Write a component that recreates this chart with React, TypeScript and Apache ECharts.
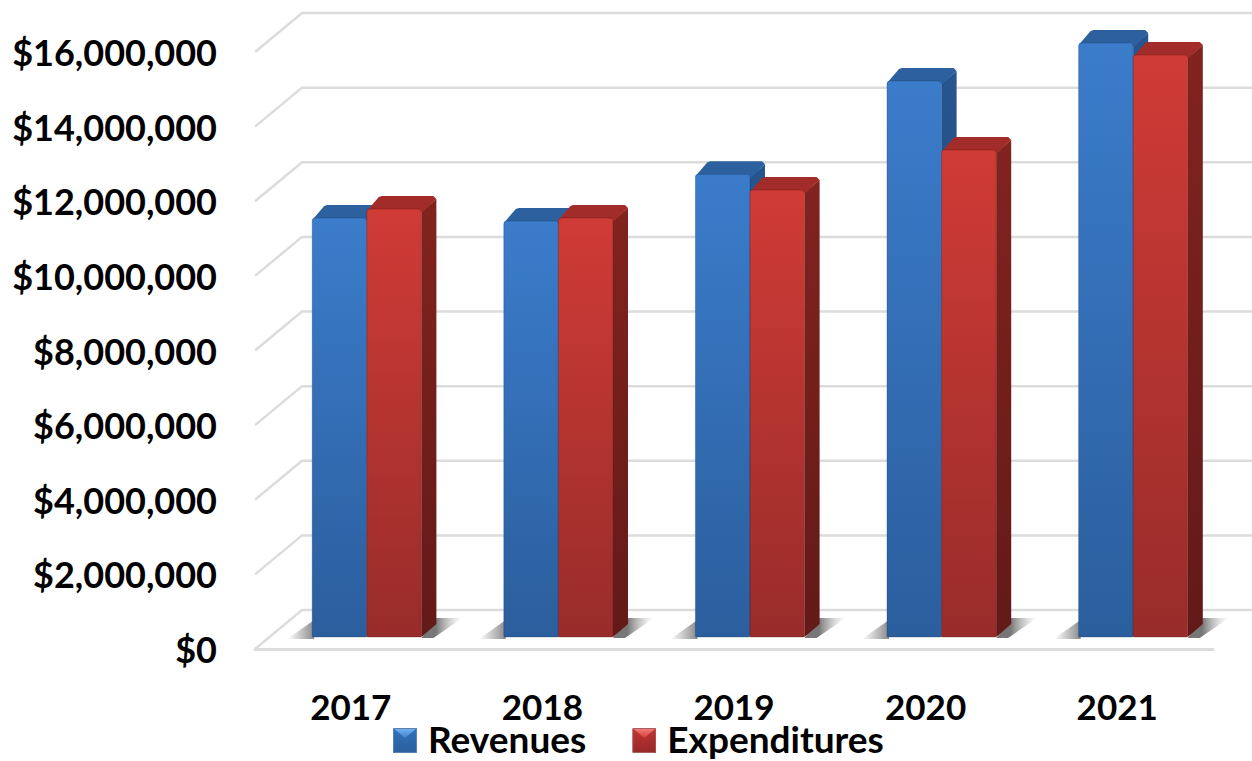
import React, { useEffect, useRef } from "react";
import * as echarts from "echarts";

const categories = ["2017", "2018", "2019", "2020", "2021"];
const revenues = [11230000, 11150000, 12400000, 14900000, 15920000];
const expenditures = [11470000, 11230000, 11980000, 13050000, 15600000];
const ticks = [0, 2000000, 4000000, 6000000, 8000000, 10000000, 12000000, 14000000, 16000000];

const FONT = "Lato";
const grad = (a: string, b: string) =>
  new echarts.graphic.LinearGradient(0, 0, 0, 1, [
    { offset: 0, color: a },
    { offset: 1, color: b },
  ]);

const legendIcon = (light: string, lightEnd: string, mid: string, midEnd: string, edge: string) =>
  "image://data:image/svg+xml;charset=utf-8," +
  encodeURIComponent(
    `<svg xmlns="http://www.w3.org/2000/svg" width="24" height="29" viewBox="0 0 24 29"><defs><linearGradient id="m" x1="0" y1="0" x2="0" y2="1"><stop offset="0" stop-color="${mid}"/><stop offset="1" stop-color="${midEnd}"/></linearGradient><linearGradient id="l" x1="0" y1="0" x2="0" y2="1"><stop offset="0" stop-color="${light}"/><stop offset="1" stop-color="${lightEnd}"/></linearGradient></defs><rect y="4" width="24" height="25" rx="1" fill="url(#m)"/><polygon points="0,4 24,4 12,14" fill="url(#l)"/><rect x="0.5" y="4.5" width="23" height="24" rx="1" fill="none" stroke="${edge}" stroke-width="1"/></svg>`
  );

const BLUE = { frontTop: "#3b7ccb", frontBottom: "#2b5e9d", topFace: "#2d609f", sideTop: "#27558f", sideBottom: "#1f4474", edge: "rgba(25,55,95,0.3)" };
const RED = { frontTop: "#d03b36", frontBottom: "#982c2a", topFace: "#a12c2a", sideTop: "#82231f", sideBottom: "#621a18", edge: "rgba(90,20,18,0.3)" };

const BAR_RATIO = 0.285;
const FLOOR_DX = 16;
const FLOOR_DY = -12;
const DEPTH_DX = 15;
const DEPTH_DY = -13;
const WALL_DX = 47;
const WALL_DY = -39;

function barRenderer(palette: typeof BLUE, slot: number) {
  return (_: any, api: any) => {
    const cat = api.value(0);
    const val = api.value(1);
    const [cx, yTop0] = api.coord([cat, val]);
    const [, yBase0] = api.coord([cat, 0]);
    const band = api.size([1, 0])[0];
    const w = band * BAR_RATIO;
    const x = cx + FLOOR_DX + (slot === 0 ? -w : 0);
    const yt = yTop0 + FLOOR_DY;
    const yb = yBase0 + FLOOR_DY;
    const children: any[] = [];
    if (slot === 0) {
      children.push({
        type: "polygon",
        shape: { points: [[x - 25, yb + 2], [x + 2, yb + 2], [x + 2, yb - 17]] },
        style: {
          fill: new echarts.graphic.LinearGradient(0, 0, 1, 0, [
            { offset: 0, color: "rgba(130,130,130,0)" },
            { offset: 1, color: "rgba(115,115,115,0.85)" },
          ]),
        },
      });
    } else {
      children.push({
        type: "polygon",
        shape: {
          points: [[x + w, yb + 1], [x + w + DEPTH_DX, yb + DEPTH_DY - 6], [x + w + DEPTH_DX + 26, yb + DEPTH_DY - 6], [x + w + 12, yb + 1]],
        },
        style: {
          fill: new echarts.graphic.LinearGradient(0, 0, 1, 0, [
            { offset: 0.35, color: "rgba(95,95,95,0.85)" },
            { offset: 1, color: "rgba(180,180,180,0)" },
          ]),
        },
      });
    }
    children.push(
      {
        type: "polygon",
        shape: {
          points: [[x + w, yt + 3], [x + w + DEPTH_DX, yt + DEPTH_DY + 3], [x + w + DEPTH_DX, yb + DEPTH_DY], [x + w, yb]],
        },
        style: { fill: grad(palette.sideTop, palette.sideBottom) },
      },
      {
        type: "polygon",
        shape: {
          points: [
            [x, yt + 2],
            [x + DEPTH_DX - 3, yt + DEPTH_DY + 1],
            [x + DEPTH_DX, yt + DEPTH_DY],
            [x + w + DEPTH_DX - 3, yt + DEPTH_DY],
            [x + w + DEPTH_DX, yt + DEPTH_DY + 3],
            [x + w + 1, yt + 3],
          ],
        },
        style: { fill: palette.topFace },
      },
      {
        type: "rect",
        shape: { x, y: yt, width: w, height: yb - yt, r: [3, 3, 1, 1] },
        style: { fill: grad(palette.frontTop, palette.frontBottom), stroke: palette.edge, lineWidth: 1 },
      }
    );
    return { type: "group", children };
  };
}

function wallRenderer(_: any, api: any) {
  const v = api.value(0);
  const [cx, y] = api.coord([0, v]);
  const band = api.size([1, 0])[0];
  const left = cx - band / 2;
  const right = left + band * categories.length;
  return {
    type: "polyline",
    shape: { points: [[left, y], [left + WALL_DX, y + WALL_DY], [right + WALL_DX, y + WALL_DY]] },
    style: { fill: "none", stroke: "#dcdcdc", lineWidth: 2.5 },
  };
}

export default function App() {
  const ref = useRef<HTMLDivElement>(null);
  useEffect(() => {
    document.body.style.margin = "0";
    const chart = echarts.init(ref.current!, undefined, { renderer: "svg" });
    chart.setOption({
      animation: false,
      backgroundColor: "#ffffff",
      textStyle: { fontFamily: FONT },
      grid: { left: 255, top: 52, width: 958, height: 597, containLabel: false },
      legend: {
        left: 393,
        top: 720,
        itemWidth: 24,
        itemHeight: 29,
        itemGap: 46,
        padding: 0,
        textStyle: { fontFamily: FONT, fontWeight: 700, fontSize: 37, lineHeight: 37, color: "#000", padding: [0, 0, 0, 6] },
        data: [
          { name: "Revenues", icon: legendIcon("#74b6f2", "#3f82cf", "#3272bd", "#2a5f9c", "#5b83ad") },
          { name: "Expenditures", icon: legendIcon("#f4807a", "#cf3f3a", "#c23431", "#96292a", "#a8605e") },
        ],
      },
      xAxis: {
        type: "category",
        data: categories,
        axisLine: { show: true, lineStyle: { color: "#dcdcdc", width: 3 } },
        axisTick: { show: false },
        splitLine: { show: false },
        axisLabel: { fontFamily: FONT, fontWeight: 700, fontSize: 35, lineHeight: 28, color: "#000", margin: 43 },
      },
      yAxis: {
        type: "value",
        min: 0,
        max: 16000000,
        interval: 2000000,
        axisLine: { show: false },
        axisTick: { show: false },
        splitLine: { show: false },
        axisLabel: {
          fontFamily: FONT,
          fontWeight: 700,
          fontSize: 36,
          color: "#000",
          margin: 38,
          padding: [3, 0, 0, 0],
          formatter: (v: number) => "$" + v.toLocaleString("en-US"),
        },
      },
      series: [
        {
          type: "custom",
          name: "wall",
          data: ticks.map((t) => [t]),
          encode: { y: 0 },
          renderItem: wallRenderer,
          silent: true,
          z: 1,
        },
        {
          type: "custom",
          name: "Revenues",
          data: revenues.map((v, i) => [i, v]),
          encode: { x: 0, y: 1 },
          renderItem: barRenderer(BLUE, 0),
          itemStyle: { color: BLUE.frontTop },
          z: 2,
        },
        {
          type: "custom",
          name: "Expenditures",
          data: expenditures.map((v, i) => [i, v]),
          encode: { x: 0, y: 1 },
          renderItem: barRenderer(RED, 1),
          itemStyle: { color: RED.frontTop },
          z: 3,
        },
      ],
    });
    return () => chart.dispose();
  }, []);
  return <div ref={ref} style={{ position: "absolute", left: 0, top: 0, width: 1252, height: 761 }} />;
}
